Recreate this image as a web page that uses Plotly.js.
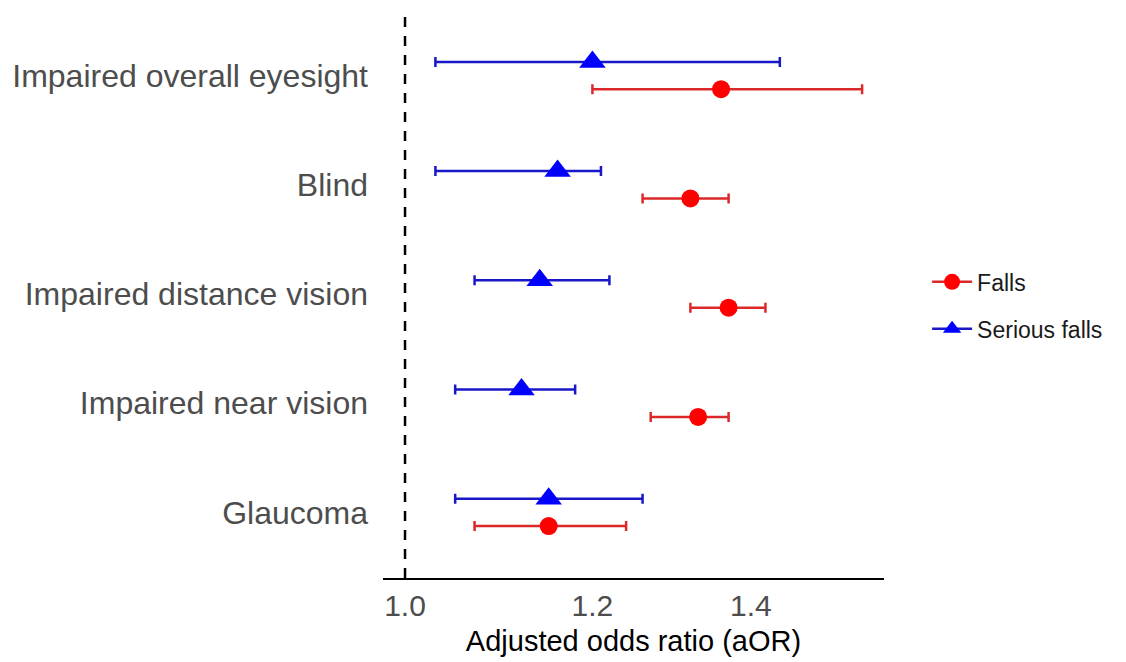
<!DOCTYPE html>
<html>
<head>
<meta charset="utf-8">
<script src="https://cdn.plot.ly/plotly-3.0.1.min.js"></script>
<style>html,body{margin:0;padding:0;background:#fff;}#chart{width:1126px;height:662px;}</style>
</head>
<body>
<div id="chart"></div>
<script>
// Categories, top to bottom
var categories = ["Impaired overall eyesight", "Blind", "Impaired distance vision", "Impaired near vision", "Glaucoma"];

// Falls: adjusted odds ratios and 95% CI
var fallsOR  = [1.36, 1.32, 1.37, 1.33, 1.15];
var fallsLo  = [1.20, 1.26, 1.32, 1.27, 1.07];
var fallsHi  = [1.56, 1.37, 1.42, 1.37, 1.24];

// Serious falls
var seriousOR = [1.20, 1.16, 1.14, 1.12, 1.15];
var seriousLo = [1.03, 1.03, 1.07, 1.05, 1.05];
var seriousHi = [1.44, 1.21, 1.22, 1.18, 1.26];

var xTicks = [1.0, 1.2, 1.4];
var xTickText = ["1.0", "1.2", "1.4"];
var refValue = 1.0;

var n = categories.length;
var basePos = categories.map(function(c, i){ return n - i; });
var dodge = 0.125;
var yRange = [0.4, n + 0.6];
var FONT = "Liberation Sans, Arial, sans-serif";

function posWith(off){ return basePos.map(function(p){ return p + off; }); }
function plus(est, hi){ return est.map(function(v, i){ return hi[i] - v; }); }
function minus(est, lo){ return est.map(function(v, i){ return v - lo[i]; }); }

var redMarker = "#FF0000", redBar = "#DC2828";
var blueMarker = "#0000FF", blueBar = "#1818C8";

var traces = [
  {
    type: "scatter", mode: "lines", showlegend: false, hoverinfo: "skip",
    x: [refValue, refValue], y: yRange,
    line: {color: "#000", width: 2.5, dash: "10px,9px"}
  },
  {
    type: "scatter", mode: "markers", name: "Serious falls", showlegend: false,
    x: seriousOR, y: posWith(dodge),
    marker: {symbol: "triangle-up", size: 23, color: blueMarker},
    error_x: {type: "data", symmetric: false, array: plus(seriousOR, seriousHi), arrayminus: minus(seriousOR, seriousLo), color: blueBar, thickness: 2.5, width: 5}
  },
  {
    type: "scatter", mode: "markers", name: "Falls", showlegend: false,
    x: fallsOR, y: posWith(-dodge),
    marker: {symbol: "circle", size: 18, color: redMarker},
    error_x: {type: "data", symmetric: false, array: plus(fallsOR, fallsHi), arrayminus: minus(fallsOR, fallsLo), color: redBar, thickness: 2.5, width: 5}
  },
  {
    type: "scatter", mode: "lines+markers", name: "Falls", legendgroup: "a",
    x: [null], y: [null],
    marker: {symbol: "circle", size: 16, color: redMarker},
    line: {color: redBar, width: 2.5}
  },
  {
    type: "scatter", mode: "lines+markers", name: "Serious falls", legendgroup: "b",
    x: [null], y: [null],
    marker: {symbol: "triangle-up", size: 16, color: blueMarker},
    line: {color: blueBar, width: 2.5}
  }
];

var layout = {
  width: 1126, height: 662,
  paper_bgcolor: "#fff", plot_bgcolor: "#fff",
  margin: {l: 383, r: 242, t: 10, b: 84, pad: 0},
  font: {family: FONT, color: "#4d4d4d"},
  showlegend: true,
  legend: {
    x: 1.086, xanchor: "left", y: 0.48, yanchor: "middle",
    traceorder: "grouped", tracegroupgap: 14, itemwidth: 40,
    font: {family: FONT, size: 23, color: "#1a1a1a"},
    bgcolor: "rgba(0,0,0,0)"
  },
  xaxis: {
    type: "log",
    range: [Math.log10(0.9788), Math.log10(1.5936)],
    tickvals: xTicks, ticktext: xTickText,
    ticks: "", showgrid: false, zeroline: false,
    showline: true, linecolor: "#000", linewidth: 2,
    tickfont: {family: FONT, size: 30, color: "#4d4d4d"},
    title: {text: "Adjusted odds ratio (aOR)", font: {family: FONT, size: 29, color: "#000"}, standoff: 10},
    fixedrange: true
  },
  yaxis: {
    range: yRange,
    tickvals: basePos, ticktext: categories,
    ticks: "", showgrid: false, zeroline: false, showline: false,
    tickfont: {family: FONT, size: 32, color: "#4d4d4d"},
    ticklabelstandoff: 14,
    fixedrange: true
  }
};

Plotly.newPlot("chart", traces, layout, {displayModeBar: false, staticPlot: true});
</script>
</body>
</html>
